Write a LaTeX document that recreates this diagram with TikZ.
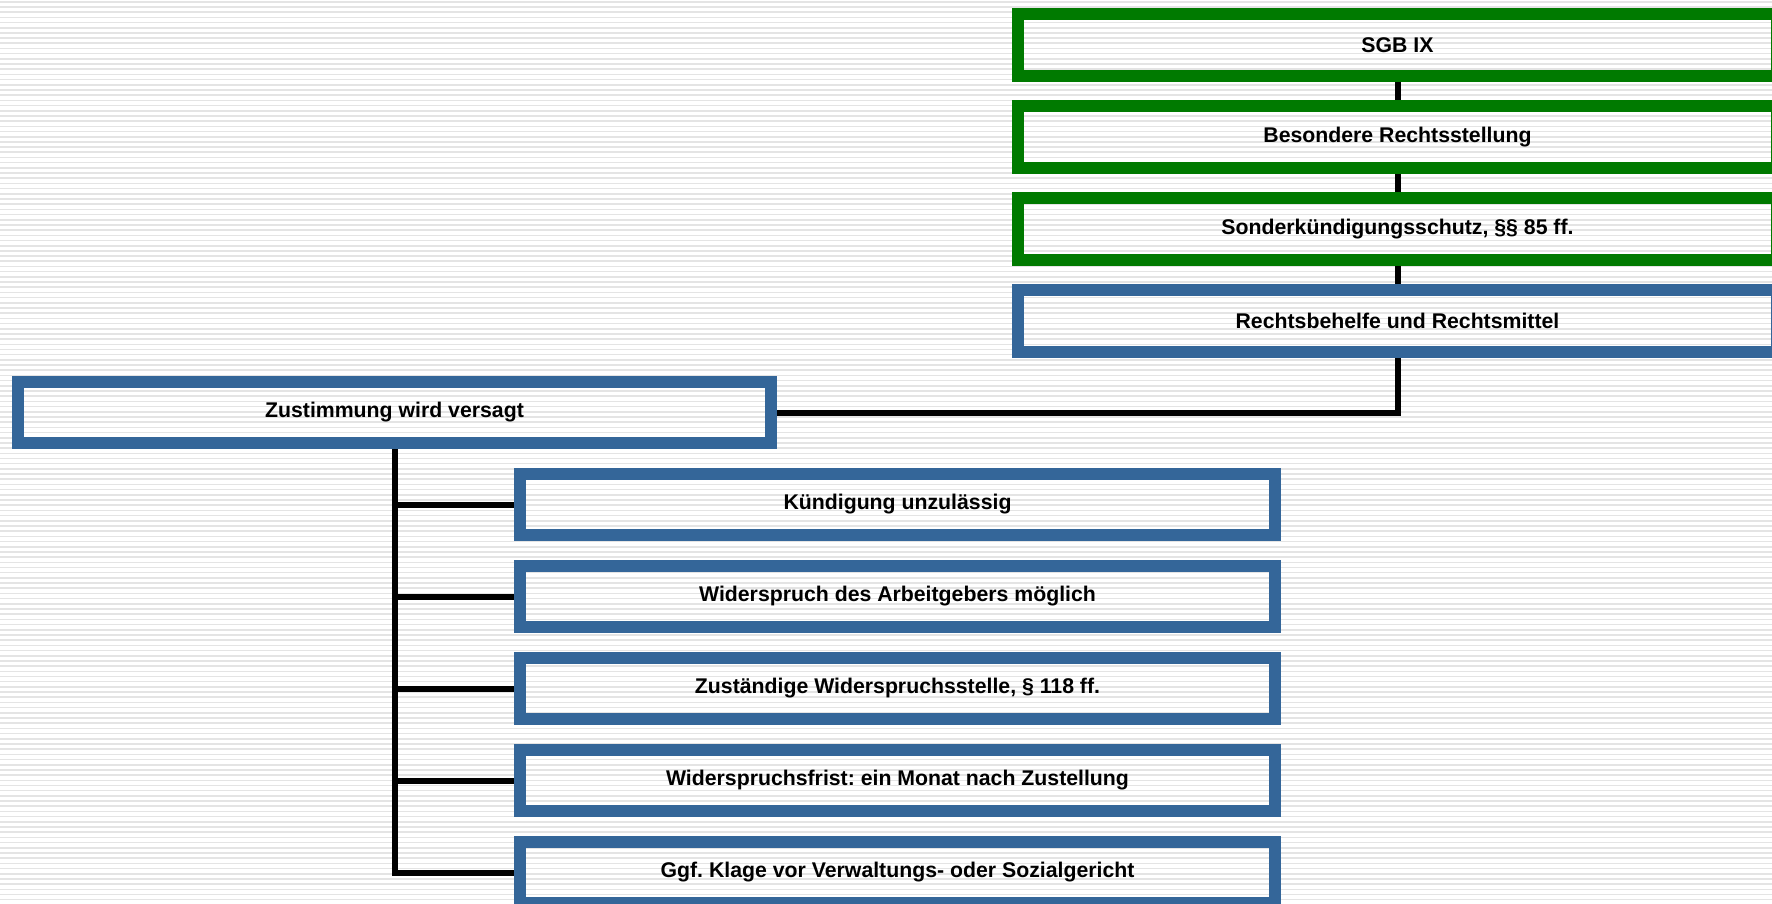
\documentclass[tikz,border=0pt]{standalone}
\usepackage{fontspec}
\setmainfont{Liberation Sans}
\frenchspacing
\definecolor{boxgreen}{RGB}{0,122,0}
\definecolor{boxblue}{RGB}{52,102,153}
\definecolor{stripegray}{RGB}{228,228,228}
\begin{document}
\begin{tikzpicture}[
    box/.style={draw,line width=0.24cm,minimum width=15.1cm,minimum height=1.23cm,
        inner sep=0pt,font=\bfseries\fontsize{12.1}{14}\selectfont},
    greenbox/.style={box,draw=boxgreen},
    bluebox/.style={box,draw=boxblue},
    link/.style={line width=0.12cm}]

            \useasboundingbox (0,0) rectangle (35.44,-18.06);
            \clip (0,0) rectangle (35.44,-18.06);
            \fill[white] (0,0) rectangle (35.44,-18.06);
            % background stripes
            \foreach \i in {0,...,173}
                \draw[stripegray,line width=0.032cm] (0,-0.035-\i*0.1038) -- (35.44,-0.035-\i*0.1038);

            \node[greenbox,minimum width=15.18cm] (sgb) at (27.95,-0.9) {SGB IX};
            \node[greenbox,minimum width=15.18cm] (stellung) at (27.95,-2.74) {Besondere Rechtsstellung};
            \node[greenbox,minimum width=15.18cm] (schutz) at (27.95,-4.58) {Sonderkündigungsschutz, §§ 85 ff.};
            \node[bluebox,minimum width=15.18cm] (behelfe) at (27.95,-6.42) {Rechtsbehelfe und Rechtsmittel};

            \node[bluebox,minimum width=15.06cm] (versagt) at (7.89,-8.25) {Zustimmung wird versagt};

            \node[bluebox] (unzul) at (17.95,-10.09) {Kündigung unzulässig};
            \node[bluebox] (arbg) at (17.95,-11.93) {Widerspruch des Arbeitgebers möglich};
            \node[bluebox] (stelle) at (17.95,-13.77) {Zuständige Widerspruchsstelle, § 118 ff.};
            \node[bluebox] (frist) at (17.95,-15.61) {Widerspruchsfrist: ein Monat nach Zustellung};
            \node[bluebox] (klage) at (17.95,-17.45) {Ggf. Klage vor Verwaltungs- oder Sozialgericht};

            \draw[link] (sgb) -- (stellung);
            \draw[link] (stellung) -- (schutz);
            \draw[link] (schutz) -- (behelfe);
            \draw[link] (behelfe.south) |- (versagt.east);
%             trunk with branches
            \draw[link] (versagt.south) |- (unzul.west);
            \draw[link] (versagt.south) |- (arbg.west);
            \draw[link] (versagt.south) |- (stelle.west);
            \draw[link] (versagt.south) |- (frist.west);
            \draw[link] (versagt.south) |- (klage.west);
        \end{tikzpicture}
\end{document}
